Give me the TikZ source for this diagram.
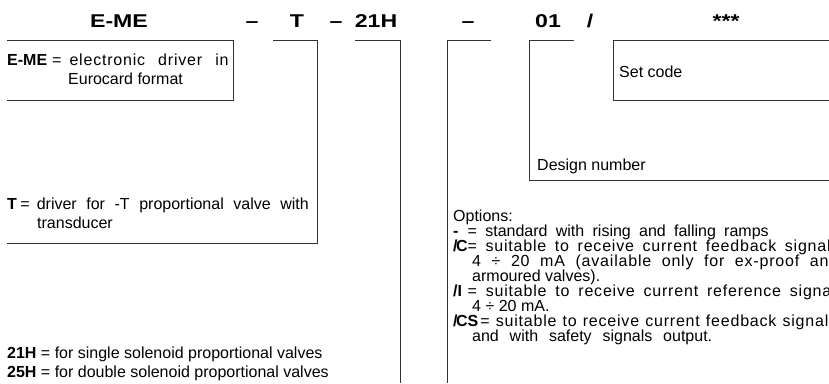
\documentclass[tikz,border=0pt]{standalone}
\usepackage{fontspec}
\setmainfont{Liberation Sans}
\newfontfamily\titlefont[FakeStretch=1.25]{Liberation Sans}
\newfontfamily\spacedfont[LetterSpace=5]{Liberation Sans}

% one justified (spread) line of text
\newcommand{\jline}[2]{\makebox[#1][s]{\spacedfont #2}}
\newcommand{\wline}[2]{\makebox[#1][s]{#2}}
% option label column
\newcommand{\optlab}[1]{\makebox[14.5pt][l]{\textbf{#1}}}

\tikzset{
  code/.style={
    font=\titlefont\bfseries\fontsize{18.5}{18.5}\selectfont,
    anchor=base,
    inner sep=0pt
  },
  desc/.style={
    font=\fontsize{16}{19}\selectfont,
    anchor=base west,
    inner sep=0pt
  },
  opts/.style={
    font=\fontsize{16}{15}\selectfont,
    anchor=base west,
    inner sep=0pt
  },
  bracket/.style={
    draw=black!80,
    line width=1pt
  }
}

\begin{document}
\begin{tikzpicture}[x=1pt,y=-1pt]
    \clip (0,0) rectangle (829,383);
    % ordering code
    \node[code] (cEME) at (119,27) {E-ME};
    \node[code] (cDashA) at (252,27) {–};
    \node[code] (cT) at (297,27) {T};
    \node[code] (cDashB) at (336,27) {–};
    \node[code] (cH) at (376,27) {21H};
    \node[code] (cDashC) at (468,27) {–};
    \node[code] (cNum) at (548,27) {01};
    \node[code] (cSlash) at (590,27) {/};
    \node[code] (cSet) at (726,27) {***};
    % brackets
    \draw[bracket] (7,40) -- (233,40) -- (233,100) -- (7,100);
    \draw[bracket] (273,40) -- (317,40) -- (317,243) -- (7,243);
    \draw[bracket] (355,40) -- (400,40) -- (400,383);
    \draw[bracket] (491,40) -- (447,40) -- (447,383);
    \draw[bracket] (574,40) -- (529,40) -- (529,180) -- (829,180);
    \draw[bracket] (829,40) -- (613,40) -- (613,100) -- (829,100);
    % descriptions
    \node[desc] (dEME) at (7,65) {\vtop{
      \hbox{\textbf{E-ME}\kern5pt=\kern8pt\jline{159pt}{electronic driver in}}
      \hbox{\kern61pt Eurocard format}}};
    \node[desc] (dT) at (7,209) {\vtop{
      \hbox{\textbf{T}\kern3.5pt=\kern7pt\wline{272pt}{driver for -T proportional valve with}}
      \hbox{\kern30pt transducer}}};
    \node[desc] (dH) at (7,358) {\vtop{
      \hbox{\textbf{21H} = for single solenoid proportional valves}
      \hbox{\textbf{25H} = for double solenoid proportional valves}}};
    \node[desc] (dSet) at (619,77) {Set code};
    \node[desc] (dDesign) at (537,170) {Design number};
    \node[opts] (dOpts) at (453,221) {\vtop{
      \hbox{Options:}
      \hbox{\optlab{-}\wline{301pt}{= standard with rising and falling ramps}}
      \hbox{\optlab{/\kern-1.5pt C}\jline{363pt}{= suitable to receive current feedback signal}}
      \hbox{\kern19pt\jline{366pt}{4 ÷ 20 mA (available only for ex-proof and}}
      \hbox{\kern19pt armoured valves).}
      \hbox{\optlab{/I}\jline{368pt}{= suitable to receive current reference signal}}
      \hbox{\kern19pt 4 ÷ 20 mA.}
      \hbox{\textbf{/\kern-1.5pt CS}\kern2pt\jline{348pt}{= suitable to receive current feedback signal}}
      \hbox{\kern19pt\wline{240pt}{and with safety signals output.}}}};
\end{tikzpicture}
\end{document}
